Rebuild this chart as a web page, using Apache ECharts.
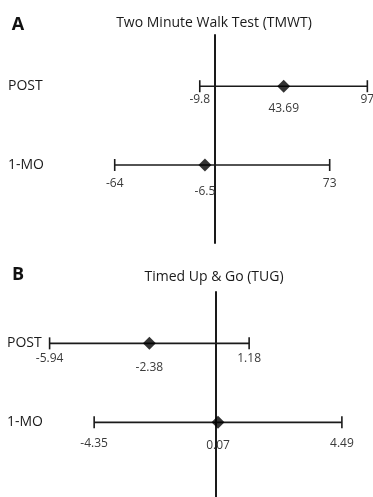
<!DOCTYPE html>
<html>
<head>
<meta charset="utf-8">
<style>html,body{margin:0;padding:0;background:#fff;}#c{width:373px;height:497px;}</style>
<script src="https://cdn.jsdelivr.net/npm/echarts@6/dist/echarts.min.js"></script>
</head>
<body>
<div id="c"></div>
<script>
// ---- data ----
const panelLetters = ['A', 'B'];
const panelTitles = ['Two Minute Walk Test (TMWT)', 'Timed Up & Go (TUG)'];
const rowsA = ['POST', '1-MO'];
const meanA = [43.69, -6.5];
const lowA = [-9.8, -64];
const highA = [97, 73];
const rowsB = ['POST', '1-MO'];
const meanB = [-2.38, 0.07];
const lowB = [-5.94, -4.35];
const highB = [1.18, 4.49];

// ---- layout / style ----
const FONT = 'Open Sans';
const INK = '#1a1a1a';
const NUM = '#3a3a3a';
const layout = [
  { grid: { left: 8, right: 0, top: 35, bottom: 254 }, x: [-132, 100.6], y: [-0.65, 1.99],
    labelDy: [[13, 22], [19, 27]], titleY: 23.5, letterY: 25 },
  { grid: { left: 7, right: 0, top: 292, bottom: 0 }, x: [-7.46, 5.6], y: [-0.65, 1.945],
    labelDy: [[15, 24], [21, 23]], titleY: 277, letterY: 275 }
];
const panels = [
  { rows: rowsA, mean: meanA, low: lowA, high: highA },
  { rows: rowsB, mean: meanB, low: lowB, high: highB }
];

const grids = [], xAxes = [], yAxes = [], series = [], titles = [];
panels.forEach((p, i) => {
  const L = layout[i];
  grids.push(L.grid);
  xAxes.push({ gridIndex: i, type: 'value', min: L.x[0], max: L.x[1],
    axisLine: { show: false }, axisTick: { show: false }, axisLabel: { show: false }, splitLine: { show: false } });
  yAxes.push({ gridIndex: i, type: 'value', inverse: true, min: L.y[0], max: L.y[1],
    axisLine: { show: true, onZero: true, lineStyle: { color: INK, width: 2 } },
    axisTick: { show: false }, axisLabel: { show: false }, splitLine: { show: false } });
  titles.push({ text: panelLetters[i], left: 18, top: L.letterY, textAlign: 'center', textVerticalAlign: 'middle', padding: 0,
    textStyle: { fontFamily: FONT, fontSize: 18, fontWeight: 'bold', color: '#111' } });
  titles.push({ text: panelTitles[i], left: 214, top: L.titleY, textAlign: 'center', textVerticalAlign: 'middle', padding: 0,
    textStyle: { fontFamily: FONT, fontSize: 14, fontWeight: 'normal', color: INK } });

  series.push({
    type: 'custom', xAxisIndex: i, yAxisIndex: i, clip: false, z: 2,
    data: p.rows.map((r, k) => [p.low[k], p.high[k], p.mean[k], k]),
    encode: { x: [0, 1, 2], y: 3 },
    renderItem: (params, api) => {
      const k = api.value(3);
      const a = api.coord([api.value(0), k]);
      const b = api.coord([api.value(1), k]);
      const m = api.coord([api.value(2), k]);
      const dy = L.labelDy[k];
      const ls = { stroke: INK, lineWidth: 1.6 };
      const ts = (txt, x, y) => ({ type: 'text', x: x, y: y,
        style: { text: txt, fill: NUM, fontSize: 12, fontFamily: FONT, align: 'center', verticalAlign: 'middle' } });
      return { type: 'group', children: [
        { type: 'line', shape: { x1: a[0], y1: a[1], x2: b[0], y2: b[1] }, style: ls },
        { type: 'line', shape: { x1: a[0], y1: a[1] - 6, x2: a[0], y2: a[1] + 6 }, style: ls },
        { type: 'line', shape: { x1: b[0], y1: b[1] - 6, x2: b[0], y2: b[1] + 6 }, style: ls },
        ts(String(p.low[k]), a[0], a[1] + dy[0]),
        ts(String(p.high[k]), b[0], b[1] + dy[0]),
        ts(String(p.mean[k]), m[0], m[1] + dy[1]),
        { type: 'text', x: params.coordSys.x, y: a[1],
          style: { text: p.rows[k], fill: INK, fontSize: 14, fontFamily: FONT, align: 'left', verticalAlign: 'middle' } }
      ] };
    }
  });
  series.push({
    type: 'scatter', xAxisIndex: i, yAxisIndex: i, z: 3, symbol: 'diamond', symbolSize: 13,
    itemStyle: { color: '#000' }, silent: true,
    data: p.mean.map((m, k) => [m, k])
  });
});

const chart = echarts.init(document.getElementById('c'), null, { renderer: 'canvas' });
chart.setOption({
  animation: false,
  backgroundColor: '#fff',
  title: titles,
  grid: grids,
  xAxis: xAxes,
  yAxis: yAxes,
  series: series
});
</script>
</body>
</html>
